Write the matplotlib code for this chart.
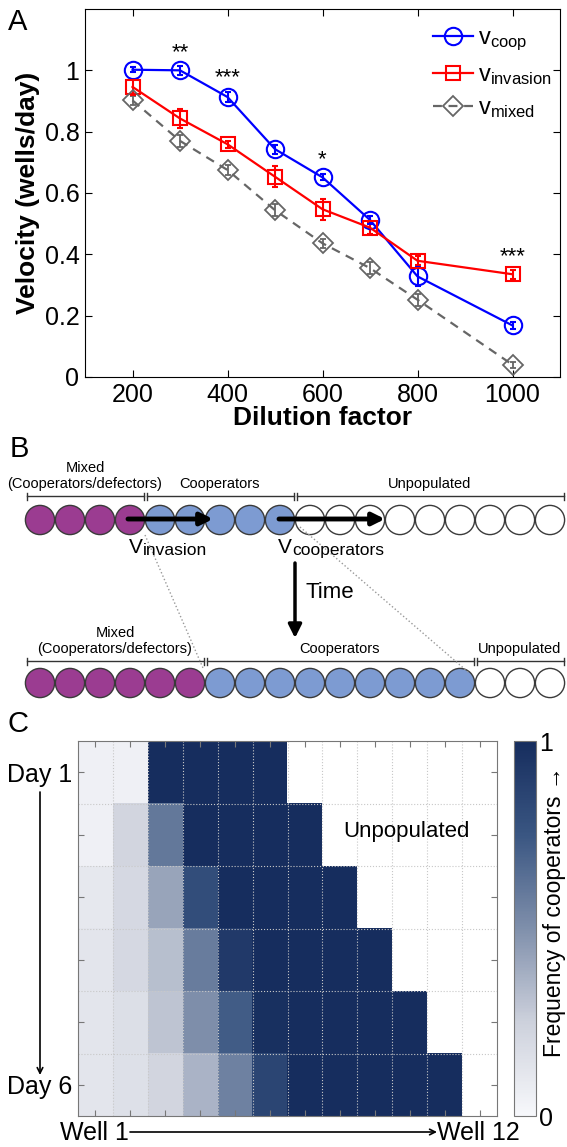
import numpy as np
import matplotlib
matplotlib.use('Agg')
import matplotlib.pyplot as plt
from matplotlib.patches import Circle
from matplotlib.colors import LinearSegmentedColormap

plt.rcParams['font.family'] = ['Liberation Sans', 'DejaVu Sans']
plt.rcParams['mathtext.fontset'] = 'custom'
plt.rcParams['mathtext.rm'] = 'Liberation Sans'
plt.rcParams['mathtext.it'] = 'Liberation Sans'

# ---- panel A data ----
dilution = [200, 300, 400, 500, 600, 700, 800, 1000]
v_coop = [1.002, 1.0, 0.913, 0.743, 0.651, 0.512, 0.328, 0.168]
v_invasion = [0.946, 0.843, 0.759, 0.653, 0.547, 0.487, 0.379, 0.335]
v_mixed = [0.902, 0.770, 0.675, 0.544, 0.436, 0.355, 0.252, 0.040]
err_coop = [0.008, 0.015, 0.015, 0.015, 0.010, 0.012, 0.030, 0.010]
err_invasion = [0.025, 0.030, 0.012, 0.035, 0.035, 0.020, 0.015, 0.015]
err_mixed = [0.015, 0.020, 0.015, 0.020, 0.015, 0.020, 0.020, 0.010]
star_x = [300, 400, 600, 1000]
star_y = [1.057, 0.977, 0.708, 0.391]
star_txt = ['**', '***', '*', '***']

# ---- panel B data (number of wells per state) ----
top_counts = [4, 5, 9]
bottom_counts = [6, 9, 3]
state_names = ['Mixed\n(Cooperators/defectors)', 'Cooperators', 'Unpopulated']
state_colors = ['#9b3c91', '#7d9bd2', 'white']

# ---- panel C data (frequency of cooperators, NaN = unpopulated) ----
nan = np.nan
freq_day1 = [0.05, 0.05, 1, 1, 1, 1, nan, nan, nan, nan, nan, nan]
freq_day2 = [0.05, 0.22, 0.60, 1, 1, 1, 1, nan, nan, nan, nan, nan]
freq_day3 = [0.10, 0.20, 0.42, 0.80, 1, 1, 1, 1, nan, nan, nan, nan]
freq_day4 = [0.12, 0.20, 0.32, 0.58, 0.92, 1, 1, 1, 1, nan, nan, nan]
freq_day5 = [0.12, 0.16, 0.30, 0.50, 0.72, 0.98, 1, 1, 1, 1, nan, nan]
freq_day6 = [0.12, 0.15, 0.22, 0.36, 0.56, 0.85, 1, 1, 1, 1, 1, nan]
day_labels = ['Day 1', '', '', '', '', 'Day 6']

W, H = 567, 1147
fig = plt.figure(figsize=(W / 100, H / 100), dpi=100)


def fbox(l, t, r, b):
    return [l / W, 1 - b / H, (r - l) / W, (b - t) / H]


# ================= panel A =================
ax = fig.add_axes(fbox(85, 9, 560, 377))
ax.errorbar(dilution, v_mixed, yerr=err_mixed, fmt='none', ecolor='#666666',
            elinewidth=1.3, capsize=2.2, capthick=1.3)
ax.errorbar(dilution, v_invasion, yerr=err_invasion, fmt='none', ecolor='#ff0000',
            elinewidth=1.5, capsize=2.2, capthick=1.5)
ax.errorbar(dilution, v_coop, yerr=err_coop, fmt='none', ecolor='#0000ff',
            elinewidth=1.5, capsize=2.2, capthick=1.5)
ax.plot(dilution, v_coop, color='#0000ff', lw=1.6, marker='o', ms=12.5,
        mfc='none', mew=1.5, label=r'$\mathregular{v_{coop}}$')
ax.plot(dilution, v_invasion, color='#ff0000', lw=1.6, marker='s', ms=9.5,
        mfc='none', mew=1.5, label=r'$\mathregular{v_{invasion}}$')
ax.plot(dilution, v_mixed, color='#666666', lw=1.6, ls=(0, (4, 3)), marker='D',
        ms=10, mfc='none', mew=1.3, label=r'$\mathregular{v_{mixed}}$')
for sx, sy, st in zip(star_x, star_y, star_txt):
    ax.text(sx, sy, st, ha='center', va='center', fontsize=16)

ax.set_xlim(100, 1100)
ax.set_ylim(0, 1.2)
ax.set_xticks([200, 400, 600, 800, 1000])
ax.set_yticks([0, 0.2, 0.4, 0.6, 0.8, 1])
ax.set_yticklabels(['0', '0.2', '0.4', '0.6', '0.8', '1'])
ax.tick_params(direction='in', top=True, right=True, length=5, width=0.8,
               labelsize=18, pad=4)
ax.set_xlabel('Dilution factor', fontsize=19, fontweight='bold')
ax.set_ylabel('Velocity (wells/day)', fontsize=19, fontweight='bold')
ax.xaxis.set_label_coords(0.5, -0.08)
ax.yaxis.set_label_coords(-0.095, 0.5)
ax.legend(loc='upper left', bbox_to_anchor=(0.733, 0.95), frameon=False,
          fontsize=17, handlelength=1.7, handletextpad=0.2, labelspacing=0.45,
          borderpad=0, borderaxespad=0)

# ================= overlay (panel B + annotations) =================
ov = fig.add_axes([0, 0, 1, 1])
ov.set_xlim(0, W)
ov.set_ylim(H, 0)
ov.axis('off')

ov.text(18, 22, 'A', fontsize=21, ha='center', va='center')
ov.text(19, 449, 'B', fontsize=21, ha='center', va='center')
ov.text(18, 724, 'C', fontsize=21, ha='center', va='center')

x0, cell = 25, 30


def draw_row(counts, cy, by):
    edges = np.concatenate([[0], np.cumsum(counts)])
    k = 0
    for i, n in enumerate(counts):
        for j in range(n):
            ov.add_patch(Circle((x0 + cell * (k + 0.5), cy), 14.6,
                                facecolor=state_colors[i], edgecolor='#3a3a3a',
                                lw=1.0, zorder=2))
            k += 1
        a = x0 + cell * edges[i] + 1.5
        b = x0 + cell * edges[i + 1] - 1.5
        ov.plot([a, b], [by, by], color='#333333', lw=1.0)
        for e in (a, b):
            ov.plot([e, e], [by - 3.5, by + 3.5], color='#333333', lw=1.0)
        ov.text((a + b) / 2, by - 5, state_names[i], ha='center', va='bottom',
                fontsize=10.5, linespacing=1.15)


draw_row(top_counts, 520, 496)
draw_row(bottom_counts, 683, 661)

# connecting dotted lines
ov.plot([145, 203], [535, 668], ls=':', color='#999999', lw=1.0, zorder=3)
ov.plot([300, 468], [527, 672], ls=':', color='#999999', lw=1.0, zorder=3)

# velocity arrows
arrow_kw = dict(arrowstyle='-|>', lw=3.5, color='k', mutation_scale=18,
                shrinkA=0, shrinkB=0)
ov.annotate('', xy=(213, 519), xytext=(128, 519), arrowprops=arrow_kw, zorder=4)
ov.annotate('', xy=(385, 519), xytext=(279, 519), arrowprops=arrow_kw, zorder=4)
ov.text(129, 553, 'V', fontsize=15, va='baseline')
ov.text(143, 555, 'invasion', fontsize=12.5, va='baseline')
ov.text(278, 553, 'V', fontsize=15, va='baseline')
ov.text(292, 555, 'cooperators', fontsize=12.5, va='baseline')

ov.annotate('', xy=(295, 638), xytext=(295, 563),
            arrowprops=dict(arrowstyle='-|>', lw=2.5, color='k',
                            mutation_scale=20, shrinkA=0, shrinkB=0))
ov.text(306, 593, 'Time', fontsize=16, va='center')

# panel C annotations
thin = dict(arrowstyle='->', lw=1.2, color='k', shrinkA=0, shrinkB=0)
ov.annotate('', xy=(40, 1075), xytext=(40, 792), arrowprops=thin)
ov.annotate('', xy=(437, 1132), xytext=(130, 1132), arrowprops=thin)
ov.text(60, 1133, 'Well 1', fontsize=18, va='center', ha='left')
ov.text(437, 1133, 'Well 12', fontsize=18, va='center', ha='left')

# ================= panel C =================
axc = fig.add_axes(fbox(78, 741, 497, 1116))
freq = np.array([freq_day1, freq_day2, freq_day3, freq_day4, freq_day5, freq_day6])
cmap = LinearSegmentedColormap.from_list(
    'coop', ['#f7f8fb', '#cdd1dc', '#7f8fab', '#3a5682', '#162d5e'])
cmap.set_bad('white')
im = axc.imshow(np.ma.masked_invalid(freq), cmap=cmap, vmin=0, vmax=1,
                aspect='auto', extent=(0.5, 12.5, 6.5, 0.5),
                interpolation='nearest')
axc.set_xticks(range(1, 13))
axc.set_xticklabels([])
axc.set_yticks(range(1, 7))
axc.set_yticklabels(day_labels)
axc.set_xticks(np.arange(1.5, 12, 1), minor=True)
axc.set_yticks(np.arange(1.5, 6, 1), minor=True)
axc.tick_params(which='major', direction='in', top=True, right=True, length=4,
                color='#777777', labelsize=18, pad=4)
axc.tick_params(which='minor', length=0)
axc.grid(which='minor', ls=':', color='#c8c8c8', lw=0.8)
for s in axc.spines.values():
    s.set_color('#777777')
axc.text(9.9, 1.95, 'Unpopulated', fontsize=16, ha='center', va='center')

cax = fig.add_axes(fbox(514, 741, 536, 1116))
cb = fig.colorbar(im, cax=cax, ticks=[0, 1])
cb.ax.tick_params(length=0, labelsize=18, pad=2)
cb.outline.set_edgecolor('#777777')
fig.text(554 / W, 1 - 912 / H, 'Frequency of cooperators \u2192', rotation=90,
         ha='center', va='center', fontsize=16.5)

fig.savefig('out.png', dpi=100)
